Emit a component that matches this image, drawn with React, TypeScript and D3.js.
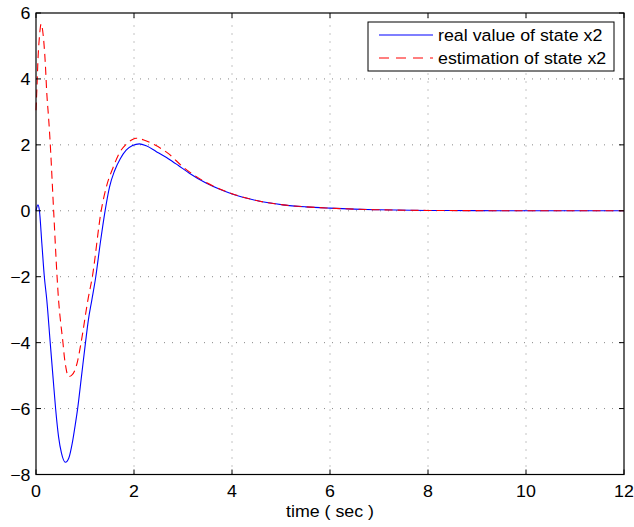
import React from 'react'
import * as d3 from 'd3'

// real value of state x2
const realT = [0, 0.04, 0.07, 0.12, 0.17, 0.22, 0.29, 0.35, 0.40, 0.46, 0.52, 0.60, 0.67, 0.74, 0.80, 0.85, 0.93, 1.01, 1.07, 1.14, 1.22, 1.31, 1.41, 1.50, 1.60, 1.72, 1.84, 1.97, 2.11, 2.25, 2.45, 2.70, 2.90, 3.13, 3.47, 3.75, 3.99, 4.5, 5.04, 5.5, 6.0, 6.5, 7, 8, 9, 10, 11, 12]
const realV = [0, 0.18, 0, -1.0, -2.0, -2.7, -4.0, -5.1, -6.0, -6.85, -7.35, -7.63, -7.5, -7.05, -6.5, -6.0, -5.0, -4.0, -3.3, -2.7, -2.0, -1.0, 0, 0.72, 1.2, 1.58, 1.84, 1.98, 2.03, 1.97, 1.8, 1.58, 1.38, 1.14, 0.84, 0.65, 0.515, 0.31, 0.18, 0.12, 0.08, 0.05, 0.03, 0.01, 0.004, 0, 0, 0]

// estimation of state x2
const estT = [0, 0.02, 0.04, 0.07, 0.105, 0.15, 0.19, 0.22, 0.255, 0.28, 0.36, 0.43, 0.46, 0.49, 0.55, 0.58, 0.61, 0.66, 0.72, 0.79, 0.85, 0.92, 1.06, 1.15, 1.33, 1.45, 1.57, 1.70, 1.85, 1.95, 2.04, 2.2, 2.42, 2.69, 3.0, 3.47, 4.0, 4.5, 5.04, 5.5, 6, 6.5, 7, 8, 9, 10, 11, 12]
const estV = [3.05, 3.77, 4.58, 5.28, 5.67, 5.28, 4.47, 3.57, 2.86, 2.3, 0, -2.0, -2.7, -3.2, -4.0, -4.45, -4.75, -5.03, -5.0, -4.85, -4.55, -4.0, -2.7, -2.0, 0, 0.8, 1.3, 1.75, 2.03, 2.15, 2.2, 2.15, 2.0, 1.75, 1.33, 0.86, 0.52, 0.31, 0.18, 0.12, 0.08, 0.05, 0.03, 0.01, 0.004, 0, 0, 0]

const xTicks = [0, 2, 4, 6, 8, 10, 12]
const yTicks = [-8, -6, -4, -2, 0, 2, 4, 6]
const legendLabels = ['real value of state x2', 'estimation of state x2']

const W = 634
const H = 527
const left = 36, right = 624, top = 13, bottom = 474.5
const font = 'Liberation Sans, Arial, Helvetica, sans-serif'
const fs = 16.5
const sx = 1.08

export default function App() {
  const x = d3.scaleLinear().domain([0, 12]).range([left, right])
  const y = d3.scaleLinear().domain([-8, 6]).range([bottom, top])

  const line = d3.line<[number, number]>()
    .x(d => x(d[0]))
    .y(d => y(d[1]))
    .curve(d3.curveMonotoneX)

  const realPath = line(realT.map((t, i) => [t, realV[i]]) as [number, number][]) || ''
  const estPath = line(estT.map((t, i) => [t, estV[i]]) as [number, number][]) || ''

  const fmt = (v: number) => (v < 0 ? '\u2212' + Math.abs(v) : String(v))

  return (
    <div style={{position: 'absolute', left: 0, top: 0}}>
      <svg width={W} height={H} style={{display: 'block', background: '#fff'}}>
        {/* grid */}
        <g stroke="#888" strokeWidth={1} strokeDasharray="1,7" fill="none">
          {xTicks.slice(1, -1).map(t => (
            <line key={'gx' + t} x1={x(t)} x2={x(t)} y1={bottom} y2={top} />
          ))}
          {yTicks.slice(1, -1).map(t => (
            <line key={'gy' + t} x1={left} x2={right} y1={y(t)} y2={y(t)} />
          ))}
        </g>

        {/* curves */}
        <path d={realPath} fill="none" stroke="#0000ff" strokeWidth={1.1} />
        <path d={estPath} fill="none" stroke="#ff0000" strokeWidth={1.1} strokeDasharray="8,5" />

        {/* ticks, inside on all four sides */}
        <g stroke="#000" strokeWidth={1}>
          {xTicks.map(t => (
            <g key={'tx' + t}>
              <line x1={x(t)} x2={x(t)} y1={bottom} y2={bottom - 5} />
              <line x1={x(t)} x2={x(t)} y1={top} y2={top + 5} />
            </g>
          ))}
          {yTicks.map(t => (
            <g key={'ty' + t}>
              <line x1={left} x2={left + 5} y1={y(t)} y2={y(t)} />
              <line x1={right} x2={right - 5} y1={y(t)} y2={y(t)} />
            </g>
          ))}
        </g>

        {/* box */}
        <rect x={left} y={top} width={right - left} height={bottom - top} fill="none" stroke="#000" strokeWidth={1.2} />

        {/* tick labels */}
        <g fontFamily={font} fontSize={fs} fill="#000">
          {xTicks.map(t => (
            <text key={'lx' + t} transform={`translate(${x(t)},${bottom + 22.5}) scale(${sx},1)`} textAnchor="middle">{fmt(t)}</text>
          ))}
          {yTicks.map(t => (
            <text key={'ly' + t} transform={`translate(${left - 5.5},${y(t) + 6}) scale(${sx},1)`} textAnchor="end">{fmt(t)}</text>
          ))}
          <text transform={`translate(${(left + right) / 2},${bottom + 42.5}) scale(${sx},1)`} textAnchor="middle">time ( sec )</text>
        </g>

        {/* legend */}
        <g>
          <rect x={368} y={22} width={246} height={49} fill="#fff" stroke="#000" strokeWidth={1} />
          <line x1={379} x2={433} y1={35} y2={35} stroke="#0000ff" strokeWidth={1.1} />
          <line x1={379} x2={433} y1={58} y2={58} stroke="#ff0000" strokeWidth={1.1} strokeDasharray="10,7" />
          {legendLabels.map((s, i) => (
            <text key={s} transform={`translate(438,${41 + i * 23}) scale(${sx},1)`} fontFamily={font} fontSize={fs}>{s}</text>
          ))}
        </g>
      </svg>
    </div>
  )
}
